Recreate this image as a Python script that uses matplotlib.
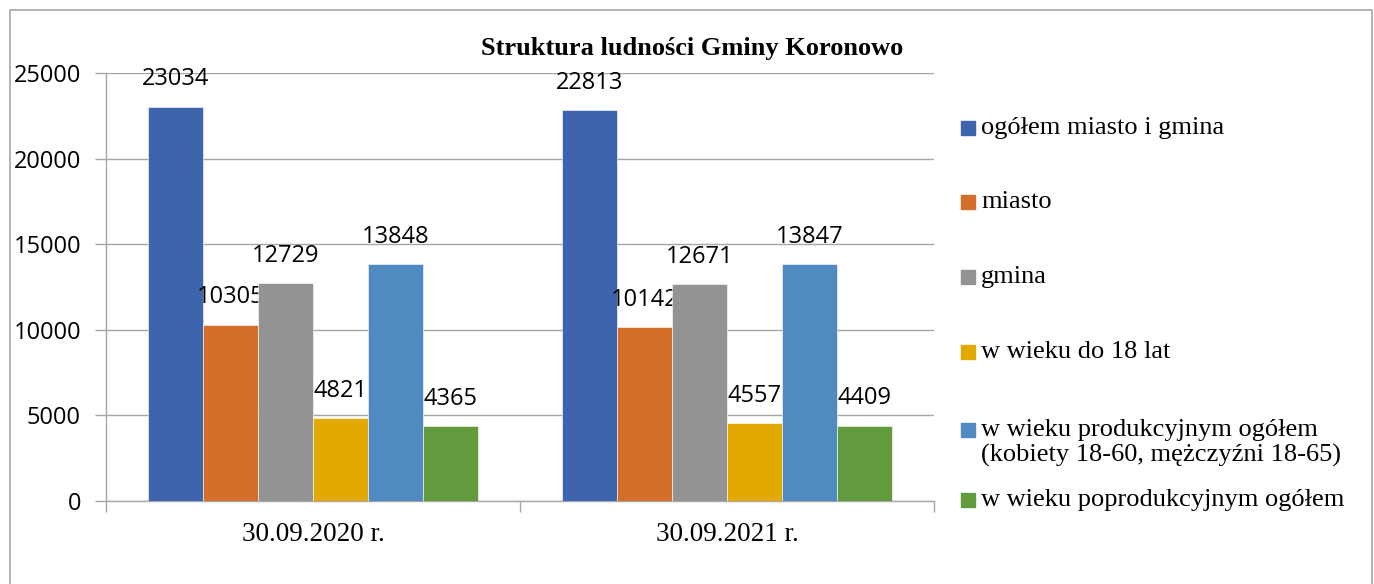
import numpy as np
import matplotlib
matplotlib.use('Agg')
import matplotlib.pyplot as plt
from matplotlib.patches import Rectangle

W, H = 1374, 584

categories = ['30.09.2020 r.', '30.09.2021 r.']
series = ['ogółem miasto i gmina', 'miasto', 'gmina', 'w wieku do 18 lat',
          'w wieku produkcyjnym ogółem\n(kobiety 18-60, mężczyźni 18-65)',
          'w wieku poprodukcyjnym ogółem']
values = [
    [23034, 22813],
    [10305, 10142],
    [12729, 12671],
    [4821, 4557],
    [13848, 13847],
    [4365, 4409],
]
colors = ['#3d64ad', '#d46e2b', '#939393', '#e2aa00', '#4f8bc0', '#629b3e']

SANS = ['Open Sans', 'DejaVu Sans']
SERIF = ['Liberation Serif', 'DejaVu Serif']
GRID = '#a6a6a6'

fig = plt.figure(figsize=(W / 100, H / 100), dpi=100)


def px(x, y):
    # pixel (from top-left) -> figure fraction
    return x / W, 1 - y / H


ax = fig.add_axes([106 / W, 1 - 501 / H, (934 - 106) / W, (501 - 73) / H])

x = np.arange(len(categories))
bw = 0.133
for k, (name, vals, col) in enumerate(zip(series, values, colors)):
    bars = ax.bar(x + (k - 2.5) * bw, vals, width=bw, color=col, zorder=3,
                  edgecolor='white', linewidth=0.4)
    ax.bar_label(bars, labels=[str(v) for v in vals], padding=11,
                 fontsize=17, family=SANS, color='black')

ax.set_xlim(-0.5, 1.5)
ax.set_ylim(0, 25000)
ax.set_yticks(np.arange(0, 25001, 5000))
ax.set_yticklabels([str(t) for t in range(0, 25001, 5000)], family=SANS,
                   fontsize=17)
ax.set_xticks(x)
ax.set_xticklabels(categories, family=SERIF, fontsize=19.5)
ax.set_xticks([-0.5, 0.5, 1.5], minor=True)
ax.tick_params(axis='x', which='major', length=0, pad=15)
ax.tick_params(axis='x', which='minor', length=8, color=GRID, width=1)
ax.tick_params(axis='y', length=8, color=GRID, width=1, pad=10)
ax.yaxis.grid(True, color=GRID, lw=1, zorder=0)
ax.set_axisbelow(True)
for sp in ('top', 'right'):
    ax.spines[sp].set_visible(False)
for sp in ('left', 'bottom'):
    ax.spines[sp].set_color(GRID)
    ax.spines[sp].set_linewidth(1)

fig.text(*px(692, 49), 'Struktura ludności Gminy Koronowo', ha='center',
         va='center', family=SERIF, fontsize=19, fontweight='bold')

# legend, marker aligned to the first text line as in the source
leg_y = [128, 202, 277, 352, 430, 500]
for name, col, yy in zip(series, colors, leg_y):
    x0, y0 = px(961, yy + 7)
    fig.patches.append(Rectangle((x0, y0), 14 / W, 14 / H, color=col,
                                 transform=fig.transFigure, figure=fig))
    fig.text(*px(981, yy - 11), name, ha='left', va='top', family=SERIF,
             fontsize=19, linespacing=1.15)

# outer frame
fig.patches.append(Rectangle(px(10, 600), 1362 / W, 590 / H, fill=False,
                             edgecolor=GRID, lw=1.2,
                             transform=fig.transFigure, figure=fig))

fig.savefig('out.png', dpi=100)
